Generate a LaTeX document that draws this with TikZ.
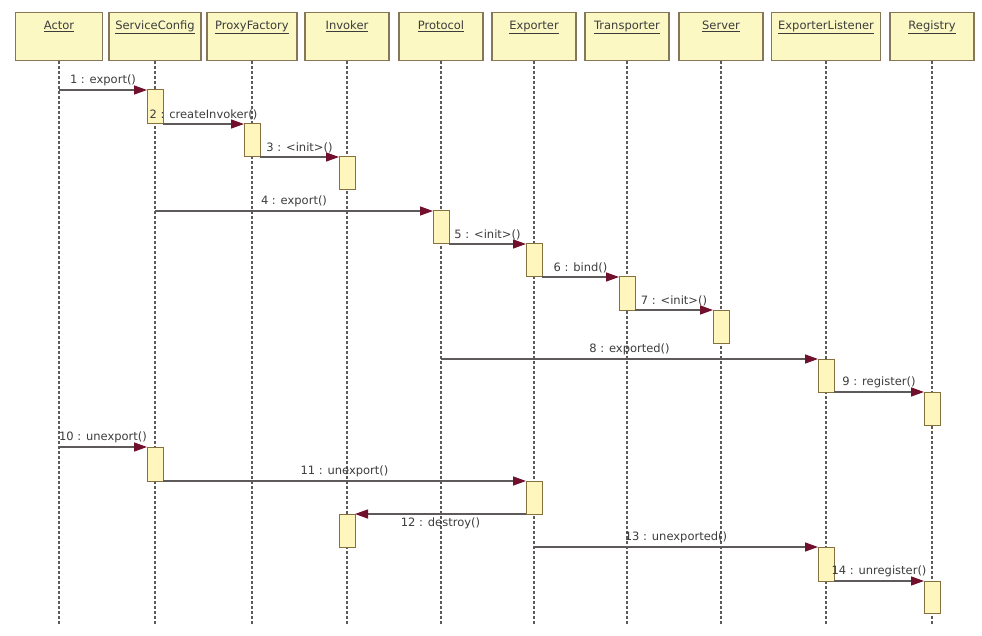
\documentclass[tikz,border=0pt]{standalone}
\usepackage{fontspec}
\setmainfont{DejaVu Sans}
\usepackage{xcolor}
\usepackage{tikz}
\usetikzlibrary{arrows.meta, positioning}

\definecolor{headfill}{HTML}{FBF8C4}
\definecolor{headline}{HTML}{857757}
\definecolor{actfill}{HTML}{FFF6BE}
\definecolor{actline}{HTML}{85703F}
\definecolor{msgline}{HTML}{5E5A5A}
\definecolor{tipred}{HTML}{70102C}
\definecolor{txtgray}{HTML}{3C3C3C}

\begin{document}
\begin{tikzpicture}[x=1pt, y=-1pt,
        head/.style={draw=headline, line width=1.2pt, fill=headfill, anchor=north, inner xsep=0pt, inner ysep=5pt, text height=12pt, text depth=26pt, font=\fontsize{11.5}{14}\selectfont, text=txtgray},
        activ/.style={draw=actline, line width=1pt, fill=actfill, anchor=north, minimum width=16pt, inner sep=0pt, outer sep=0pt},
        lifeline/.style={draw=msgline, line width=1.5pt, dash pattern=on 2.5pt off 2.5pt},
        msg/.style={draw=msgline, line width=1.3pt, -{Triangle[length=13pt, width=9pt, color=tipred]}},
        call/.style={font=\fontsize{11.5}{14}\selectfont, text=txtgray, inner sep=3.5pt}
    ]
    \useasboundingbox (0,0) rectangle (982,636);
    \coordinate (bottom) at (0,625);

    \node[head, minimum width=87pt] (actor) at (59,12) {\underline{Actor}};
    \node[head, minimum width=92pt] (svcconfig) at (155,12) {\underline{ServiceConfig}};
    \node[head, minimum width=90pt] (proxyfactory) at (252,12) {\underline{ProxyFactory}};
    \node[head, minimum width=84pt] (invoker) at (347,12) {\underline{Invoker}};
    \node[head, minimum width=84pt] (protocol) at (441,12) {\underline{Protocol}};
    \node[head, minimum width=84pt] (exporter) at (534,12) {\underline{Exporter}};
    \node[head, minimum width=84pt] (transporter) at (627,12) {\underline{Transporter}};
    \node[head, minimum width=84pt] (server) at (721,12) {\underline{Server}};
    \node[head, minimum width=109pt] (explistener) at (826,12) {\underline{ExporterListener}};
    \node[head, minimum width=84pt] (registry) at (932,12) {\underline{Registry}};

    \foreach \h in {actor, svcconfig, proxyfactory, invoker, protocol, exporter, transporter, server, explistener, registry}
        \draw[lifeline] (\h.south) -- (\h.south |- bottom);

    \node[activ, minimum height=34pt] (a1) at (svcconfig.south |- 0,90) {};
    \node[activ, minimum height=33pt] (a2) at (proxyfactory.south |- 0,124) {};
    \node[activ, minimum height=33pt] (a3) at (invoker.south |- 0,157) {};
    \node[activ, minimum height=33pt] (a4) at (protocol.south |- 0,211) {};
    \node[activ, minimum height=33pt] (a5) at (exporter.south |- 0,244) {};
    \node[activ, minimum height=33pt] (a6) at (transporter.south |- 0,277) {};
    \node[activ, minimum height=33pt] (a7) at (server.south |- 0,310) {};
    \node[activ, minimum height=33pt] (a8) at (explistener.south |- 0,359) {};
    \node[activ, minimum height=33pt] (a9) at (registry.south |- 0,392) {};
    \node[activ, minimum height=34pt] (a10) at (svcconfig.south |- 0,447) {};
    \node[activ, minimum height=33pt] (a11) at (exporter.south |- 0,481) {};
    \node[activ, minimum height=33pt] (a12) at (invoker.south |- 0,514) {};
    \node[activ, minimum height=34pt] (a13) at (explistener.south |- 0,547) {};
    \node[activ, minimum height=32pt] (a14) at (registry.south |- 0,581) {};

    \draw[msg] (actor.south |- a1.north west) -- node[call, above] (l1) {1 : export()} (a1.north west);
    \draw[msg] (a1.south east) -- node[call, above] (l2) {2 : createInvoker()} (a2.north west);
    \draw[msg] (a2.south east) -- node[call, above] (l3) {3 : <init>()} (a3.north west);
    \draw[msg] (svcconfig.south |- a4.north west) -- node[call, above] (l4) {4 : export()} (a4.north west);
    \draw[msg] (a4.south east) -- node[call, above] (l5) {5 : <init>()} (a5.north west);
    \draw[msg] (a5.south east) -- node[call, above] (l6) {6 : bind()} (a6.north west);
    \draw[msg] (a6.south east) -- node[call, above] (l7) {7 : <init>()} (a7.north west);
    \draw[msg] (protocol.south |- a8.north west) -- node[call, above] (l8) {8 : exported()} (a8.north west);
    \draw[msg] (a8.south east) -- node[call, above] (l9) {9 : register()} (a9.north west);
    \draw[msg] (actor.south |- a10.north west) -- node[call, above] (l10) {10 : unexport()} (a10.north west);
    \draw[msg] (a10.south east) -- node[call, above] (l11) {11 : unexport()} (a11.north west);
    \draw[msg] (a11.south west) -- node[call, below] (l12) {12 : destroy()} (a12.north east);
    \draw[msg] (exporter.south |- a13.north west) -- node[call, above] (l13) {13 : unexported()} (a13.north west);
    \draw[msg] (a13.south east) -- node[call, above] (l14) {14 : unregister()} (a14.north west);
\end{tikzpicture}
\end{document}
